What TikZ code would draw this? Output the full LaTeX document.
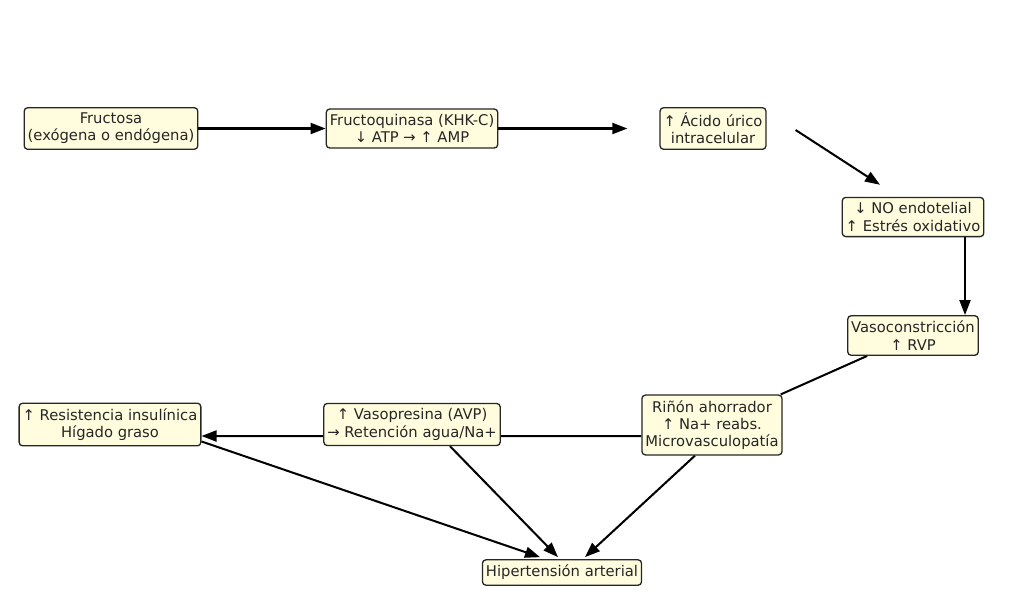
\documentclass[tikz,border=0pt]{standalone}
\usepackage{fontspec}
\setmainfont{DejaVu Sans}
\usetikzlibrary{arrows.meta,calc,backgrounds}

\definecolor{boxfill}{RGB}{255,253,222}
\tikzstyle{nS}=[rectangle,rounded corners=2pt,draw=black!85,line width=0.75pt,fill=boxfill,inner xsep=2pt,inner ysep=3pt,text=black!85,font=\fontsize{8.4}{9.8}\selectfont,align=center]
\tikzstyle{eS}=[line width=1.15pt,-{Triangle[length=0.3cm,width=0.22cm]}]
\tikzstyle{eL}=[line width=1.15pt]

\begin{document}
\begin{tikzpicture}[x=0.02cm,y=-0.02cm]%pixel grid 1024x613
                \useasboundingbox (0,0) rectangle (1024,613);
                \draw (111,128.5) node[nS] (nFru) {Fructosa\\(exógena o endógena)};
                \draw (412,128.5) node[nS] (nKhk) {Fructoquinasa (KHK-C)\\↓ ATP → ↑ AMP};
                \draw (713,128.5) node[nS] (nUri) {↑ Ácido úrico\\intracelular};
                \draw (913,217) node[nS] (nNo) {↓ NO endotelial\\↑ Estrés oxidativo};
                \draw (913,335.5) node[nS] (nVas) {Vasoconstricción\\↑ RVP};
                \draw (712,425) node[nS] (nRin) {Riñón ahorrador\\↑ Na+ reabs.\\Microvasculopatía};
                \draw (412,424.5) node[nS] (nAvp) {↑ Vasopresina (AVP)\\→ Retención agua/Na+};
                \draw (110,424.5) node[nS] (nIns) {↑ Resistencia insulínica\\Hígado graso};
                \draw (562,572.5) node[nS] (nHta) {Hipertensión arterial};
                \begin{scope}[on background layer]
                \path
                    (nFru) edge[eS] (nKhk)
                    (nKhk) edge[eS,shorten >=0.64cm] (nUri)
                    ($(nUri.east)+(29,1.5)$) edge[eS] ($(nNo.north)+(-33,-12)$)
                    ($(nNo.south)+(52,0)$) edge[eS] ($(nVas.north)+(52,0)$)
                    (nVas) edge[eL] (nRin)
                    ($(nRin.west)+(0,11)$) edge[eS] ($(nIns.east)+(0,11.5)$)
                    ($(nIns.south east)+(0,-5)$) edge[eS] ($(nHta.north)+(-22,-2)$)
                    ($(nAvp.south)+(38,0)$) edge[eS] ($(nHta.north)+(-4,-2)$)
                    ($(nRin.south)+(-17,0)$) edge[eS] ($(nHta.north)+(23,-2)$)
                ;
                \end{scope}
        \end{tikzpicture}
\end{document}
